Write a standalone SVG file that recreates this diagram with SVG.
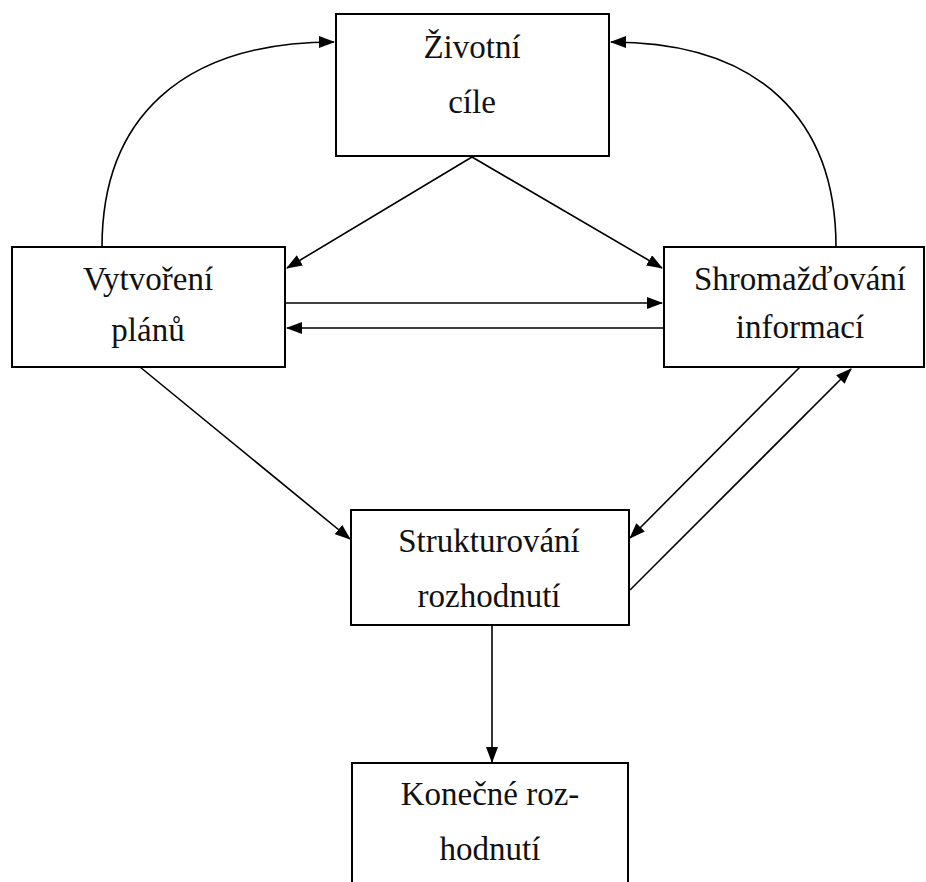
<svg xmlns="http://www.w3.org/2000/svg" width="926" height="882" viewBox="0 0 926 882">
<defs>
<marker id="ah" markerWidth="16" markerHeight="12" refX="15" refY="6" orient="auto" markerUnits="userSpaceOnUse">
<path d="M0,0 L16,6 L0,12 Z" fill="#000"/>
</marker>
<style>
.box{fill:#fff;stroke:#000;stroke-width:2}
.t{font-size:33px;fill:#111;text-anchor:middle}
.c{fill:none;stroke:#000;stroke-width:1.6;marker-end:url(#ah)}
</style>
</defs>
<rect width="926" height="882" fill="#fff"/>
<g id="connectors">
<path class="c" d="M102,247 C102,120 180,42 334,42"/>
<path class="c" d="M836,247 C836,120 760,42 611,42"/>
<path class="c" d="M472,157 L287,268"/>
<path class="c" d="M472,157 L662,268"/>
<path class="c" d="M285,303 L662,303"/>
<path class="c" d="M664,328 L287,328"/>
<path class="c" d="M140,367 L350,539"/>
<path class="c" d="M800,367 L630,538"/>
<path class="c" d="M630,590 L851,369"/>
<path class="c" d="M492,625 L492,762"/>
</g>
<g font-family="'Liberation Serif', 'DejaVu Serif', 'Times New Roman', serif">
<g id="zivotni-cile">
<rect class="box" x="336" y="14" width="273" height="142"/>
<text class="t" x="472" y="58">Životní</text>
<text class="t" x="472" y="113">cíle</text>
</g>
<g id="vytvoreni-planu">
<rect class="box" x="12" y="247" width="273" height="120"/>
<text class="t" x="148" y="290">Vytvoření</text>
<text class="t" x="148" y="341">plánů</text>
</g>
<g id="shromazdovani-informaci">
<rect class="box" x="664" y="247" width="260" height="120"/>
<text class="t" x="800" y="290">Shromažďování</text>
<text class="t" x="800" y="338">informací</text>
</g>
<g id="strukturovani-rozhodnuti">
<rect class="box" x="351" y="510" width="278" height="115"/>
<text class="t" x="489" y="552">Strukturování</text>
<text class="t" x="489" y="607">rozhodnutí</text>
</g>
<g id="konecne-rozhodnuti">
<rect class="box" x="352" y="763" width="276" height="130"/>
<text class="t" x="490" y="805">Konečné roz-</text>
<text class="t" x="490" y="860">hodnutí</text>
</g>
</g>
</svg>
